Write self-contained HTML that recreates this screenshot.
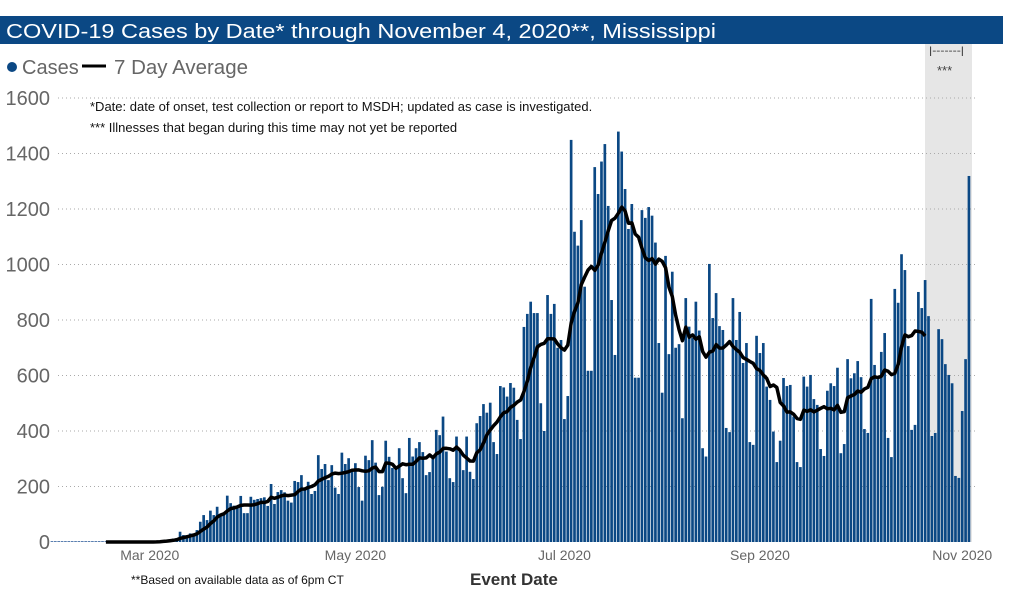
<!DOCTYPE html>
<html><head><meta charset="utf-8">
<style>
html,body{margin:0;padding:0;background:#fff;width:1024px;height:608px;overflow:hidden;font-family:"Liberation Sans",sans-serif;}
svg{display:block}
</style></head>
<body>
<svg id="chart" width="1024" height="608" xmlns="http://www.w3.org/2000/svg">
  <rect x="0" y="16" width="1003" height="28" fill="#0b4884"/>
  <text x="6" y="38" fill="#fff" font-size="20" textLength="710" lengthAdjust="spacingAndGlyphs">COVID-19 Cases by Date* through November 4, 2020**, Mississippi</text>
  <rect x="925" y="44" width="47" height="498" fill="#e6e6e6"/>
  <text x="929" y="54" font-size="10" fill="#333" textLength="35" lengthAdjust="spacingAndGlyphs">|-------|</text>
  <text x="937" y="75" font-size="13" fill="#444">***</text>
  <g>
    <circle cx="12" cy="67" r="5" fill="#0b4884"/>
    <text x="22" y="74" font-size="20" fill="#666">Cases</text>
    <line x1="82" y1="66" x2="106" y2="66" stroke="#000" stroke-width="3"/>
    <text x="114" y="74" font-size="20" fill="#666" textLength="134" lengthAdjust="spacingAndGlyphs">7 Day Average</text>
  </g>
  <g id="grid"></g>
  <g id="bars"></g>
  <path id="avgline" fill="none" stroke="#000" stroke-width="3.5" stroke-linejoin="round"/>
  <g id="yticks"></g>
  <g id="xticks"></g>
  <text x="90" y="111" font-size="13" fill="#111">*Date: date of onset, test collection or report to MSDH; updated as case is investigated.</text>
  <text x="90" y="132" font-size="13" fill="#111">*** Illnesses that began during this time may not yet be reported</text>
  <text x="131" y="584" font-size="12" fill="#111">**Based on available data as of 6pm CT</text>
  <text x="470" y="585" font-size="17" font-weight="bold" fill="#333">Event Date</text>
</svg>
<script>
const cases = [
0,0,0,0,0,0,0,0,0,0,0,0,0,0,0,0,0,0,0,0,
0,0,0,0,0,0,0,0,0,0,0,3,5,6,8,10,12,14,37,25,25,31,31,43,73,97,79,113,97,127,94,104,167,140,131,122,166,104,104,163,
152,155,158,161,130,209,137,180,187,179,149,142,220,216,241,191,217,173,184,313,263,281,223,277,196,173,322,281,302,259,284,198,149,311,295,367,286,169,199,365,307,267,267,
338,230,176,375,308,338,360,324,241,252,303,404,385,452,326,230,216,380,326,259,380,253,227,428,454,497,466,502,360,317,562,557,524,573,556,440,371,775,822,866,825,825,500,400,890,822,858,700,
728,443,526,1449,1118,1068,1160,920,617,617,1351,1254,1371,1434,1211,872,674,1479,1407,1272,1128,1218,592,592,1196,1168,1207,1176,1079,717,538,1031,677,974,700,713,446,879,776,735,
866,762,338,308,1002,807,897,778,764,411,396,879,728,829,645,717,360,350,743,681,717,560,512,398,288,365,591,562,566,452,288,270,596,560,602,515,494,335,310,545,
572,562,628,320,353,659,590,608,652,594,407,393,876,638,587,685,753,375,306,912,862,1037,980,706,404,422,901,843,944,814,382,393,767,731,641,602,572,238,231,472,659,1319
];
const yTicks = [0,200,400,600,800,1000,1200,1400,1600];
const xTickLabels = ["Mar 2020","May 2020","Jul 2020","Sep 2020","Nov 2020"];
const xTickDays = [29,90,152,210,270];
const avgStartDay = 16;
const avgTrailingOmit = 13;

const NS="http://www.w3.org/2000/svg";
const X0=52, X1=969, Y0=542, Y1=98;
function xs(i){return X0+i*(X1-X0)/(cases.length-1);}
function ys(v){return Y0-(v/1600)*(Y0-Y1);}
function mk(tag,attrs,parent){const e=document.createElementNS(NS,tag);for(const k in attrs)e.setAttribute(k,attrs[k]);parent.appendChild(e);return e;}
const grid=document.getElementById('grid'),bars=document.getElementById('bars'),yt=document.getElementById('yticks'),xt=document.getElementById('xticks');
yTicks.forEach(v=>{
  if(v>0){const g=mk('line',{x1:58,x2:975,y1:ys(v),y2:ys(v),stroke:'#aaa','stroke-width':1,'stroke-dasharray':'1,3'},grid);
  
  }
  const t=mk('text',{x:50,y:ys(v)+7,'text-anchor':'end','font-size':20,fill:'#666'},yt);
  t.textContent=v;
  
  
});
const bw=(X1-X0)/(cases.length-1);
cases.forEach((v,i)=>{
  const h=Math.max(v>0?ys(0)-ys(v):1,1);
  const r=mk('rect',{x:xs(i)-bw/2+0.3,y:ys(0)-h,width:bw-0.7,height:h,fill:v>0?'#0b4884':'#5a7fb0'},bars);
  
  
});
let d='';
for(let i=avgStartDay;i<cases.length-avgTrailingOmit;i++){
  let s=0,n=0;for(let k=Math.max(0,i-6);k<=i;k++){s+=cases[k];n++;}
  d+=(d?'L':'M')+xs(i).toFixed(1)+','+ys(s/n).toFixed(1);
}
document.getElementById('avgline').setAttribute('d',d);
xTickLabels.forEach((lab,j)=>{
  const t=mk('text',{x:xs(xTickDays[j]),y:560,'text-anchor':'middle','font-size':14,fill:'#666'},xt);
  t.textContent=lab;
  
  
});
</script>
</body></html>
